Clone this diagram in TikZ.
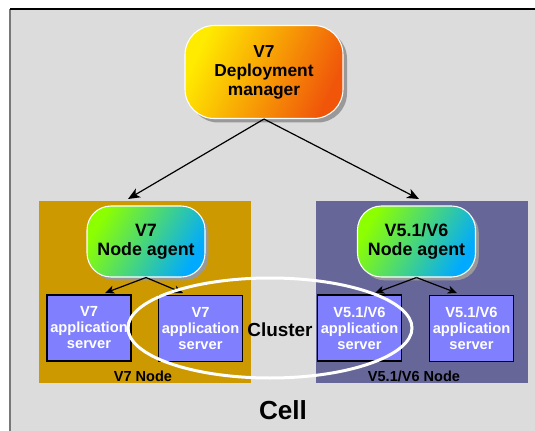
\documentclass[tikz,border=0pt]{standalone}
\usepackage{fontspec}
\setmainfont{Liberation Sans}
\usetikzlibrary{arrows.meta,shadows}

\definecolor{cellgray}{RGB}{220,220,220}
\definecolor{framegray}{RGB}{120,120,120}
\definecolor{nodegold}{RGB}{204,153,0}
\definecolor{nodepurple}{RGB}{102,102,153}
\definecolor{serverblue}{RGB}{128,128,255}
\definecolor{dmyellow}{RGB}{255,235,0}
\definecolor{dmorange}{RGB}{240,85,10}
\definecolor{agentgreen}{RGB}{140,255,0}
\definecolor{agentblue}{RGB}{0,170,255}

\tikzset{
  dmgr/.style={rounded corners=22pt, draw=white, line width=0.8pt,
    top color=dmyellow, bottom color=dmorange, shading angle=65,
    drop shadow={shadow xshift=3pt, shadow yshift=-3pt, fill=black!40, opacity=1},
    minimum width=118.5pt, minimum height=69.75pt, align=center,
    font=\bfseries\fontsize{13}{14.3}\selectfont},
  agent/.style={rounded corners=18pt, draw=white, line width=0.8pt,
    top color=agentgreen, bottom color=agentblue, shading angle=60,
    drop shadow={shadow xshift=2.5pt, shadow yshift=-2.5pt, fill=black!40, opacity=1},
    minimum width=88.5pt, minimum height=53.25pt, align=center,
    font=\bfseries\fontsize{13.4}{14.5}\selectfont},
  appsrv/.style={draw=black, line width=1.1pt, fill=serverblue, text=white,
    minimum width=63pt, minimum height=49.5pt, align=center, inner sep=0pt,
    font=\bfseries\fontsize{11}{12}\selectfont},
  nodelbl/.style={inner sep=0pt, font=\bfseries\fontsize{10.9}{12}\selectfont},
  bigarrow/.style={-{Stealth[length=9pt,width=7.5pt,inset=2.5pt]}, line width=0.9pt},
  smallarrow/.style={-{Stealth[length=7pt,width=6pt,inset=2pt]}, line width=0.9pt},
}

\begin{document}
\begin{tikzpicture}[x=0.75pt,y=0.75pt,yscale=-1,xscale=1]
    \useasboundingbox (0,0) rectangle (535,431);

    %Shape: Rectangle (cell background)
    \fill [cellgray] (10,9) rectangle (535,431);
    \draw [framegray, line width=1.5pt] (10,9) -- (10,431);
    \draw [black, line width=1.2pt] (10,9) -- (535,9);

    %Shape: Rectangle (node boxes)
    \fill [nodegold] (39,201) rectangle (251,383);
    \fill [nodepurple] (316,201) rectangle (528,383);

    % Deployment manager
    \node [dmgr] (dm) at (264,72) {V7\\Deployment\\manager};

    % Node agents
    \node [agent] (agentv7) at (146,241.5) {V7\\Node agent};
    \node [agent] (agentv6) at (416.5,241.5) {V5.1/V6\\Node agent};

    % Application servers
    \node [appsrv] (srvv7a) at (89,328) {V7\\application\\server};
    \node [appsrv] (srvv7b) at (200.5,328.5) {V7\\application\\server};
    \node [appsrv] (srvv6a) at (359.5,328) {V5.1/V6\\application\\server};
    \node [appsrv] (srvv6b) at (471.5,328.5) {V5.1/V6\\application\\server};

    % Text Node
    \node [nodelbl] (lblv7) at (143,376) {V7 Node};
    % Text Node
    \node [nodelbl] (lblv6) at (414,376) {V5.1/V6 Node};

    %Straight Lines
    \coordinate (tipv7) at (128,199);
    \coordinate (tipv6) at (419,199);
    \draw [bigarrow] (dm.south) -- (tipv7);
    \draw [bigarrow] (dm.south) -- (tipv6);

    %Straight Lines
    \coordinate (tipv7a) at (105,293);
    \coordinate (tipv7b) at (183,293);
    \coordinate (tipv6a) at (375,293);
    \coordinate (tipv6b) at (457,293);
    \draw [smallarrow] (agentv7.south) -- (tipv7a);
    \draw [smallarrow] (agentv7.south) -- (tipv7b);
    \draw [smallarrow] (agentv6.south) -- (tipv6a);
    \draw [smallarrow] (agentv6.south) -- (tipv6b);

    %Shape: Ellipse (cluster)
    \draw [white, line width=2.25pt] (270,328) ellipse [x radius=142, y radius=50];

    % Text Node
    \node [inner sep=0pt, font=\bfseries\fontsize{14.2}{16}\selectfont] (cluster) at (280,330) {Cluster};
    % Text Node
    \node [inner sep=0pt, font=\bfseries\fontsize{19.6}{22}\selectfont] (cell) at (283,410) {Cell};

\end{tikzpicture}
\end{document}
